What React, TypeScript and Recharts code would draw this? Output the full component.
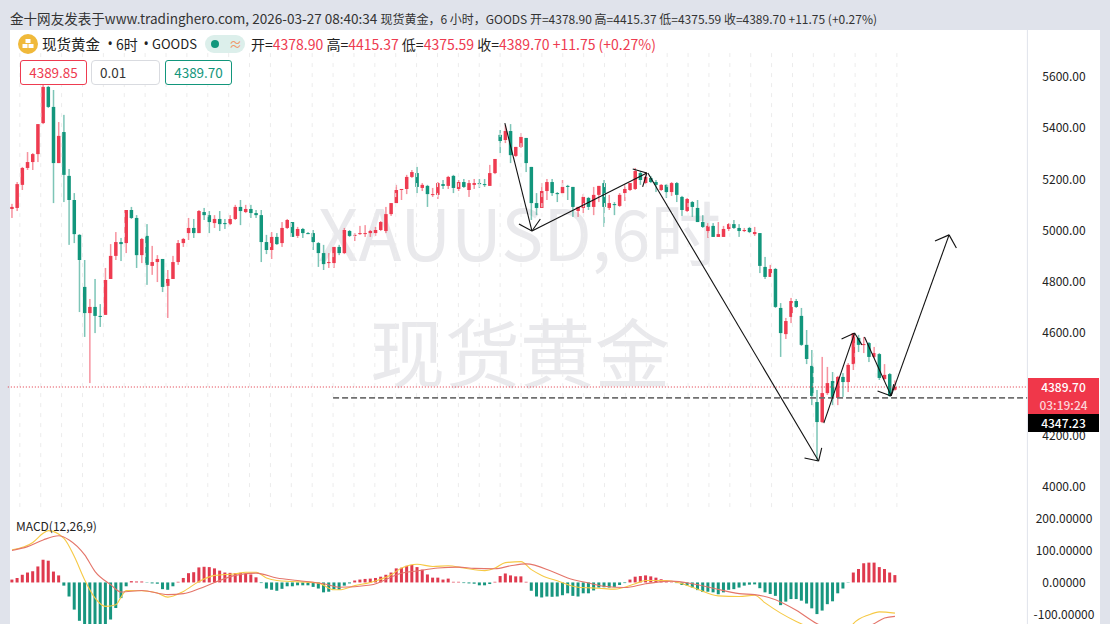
import React from "react";
import { ComposedChart, Bar, Line, Cell, XAxis, YAxis, ReferenceLine } from "recharts";

const FONT = '"Noto Sans CJK SC", "Noto Sans", sans-serif';
const RED = "#ee3b50";
const TEAL = "#12967c";

const opens = [5084,5088,5178,5244,5267,5298,5419,5560,5482,5263,5384,5213,5119,4983,4780,4678,4702,4667,4671,4811,
4901,4955,4951,5080,5049,4904,4979,4862,4877,4889,4784,4811,4877,4951,4990,5010,4990,5072,5060,5029,
5045,5029,5025,5045,5092,5072,5084,5068,5060,4955,4924,4975,4951,5010,5033,4979,5006,4990,4990,4951,
4912,4873,4873,4936,4912,4998,4979,4986,4988,4990,4990,5002,4998,5064,5107,5158,5162,5209,5224,5166,
5174,5139,5139,5181,5174,5213,5162,5189,5158,5178,5185,5181,5174,5224,5373,5353,5388,5291,5326,5361,
5248,5107,5088,5154,5189,5146,5146,5174,5170,5076,5088,5127,5092,5139,5185,5088,5103,5096,5146,5158,
5162,5224,5185,5205,5189,5158,5178,5150,5185,5131,5076,5111,5088,5033,4998,5018,4975,4975,5006,5025,
5010,4998,5010,4986,4990,4858,4819,4850,4698,4596,4663,4725,4667,4554,4472,4331,4253,4366,4413,4347,
4429,4409,4479,4581,4554,4561,4507,4518,4421,4440,4378.9];
const highs = [5104,5189,5248,5306,5302,5415,5568,5564,5548,5423,5451,5240,5146,4986,4885,4733,4811,4713,4854,4947,
4994,4971,5080,5092,5060,4971,5025,4940,4904,4889,4846,4901,4963,4971,5049,5045,5080,5088,5076,5060,
5076,5045,5060,5100,5119,5100,5100,5080,5080,4983,4994,4990,5033,5045,5033,5014,5010,4994,5002,4955,
4944,4912,4936,4944,5010,5002,4990,5018,5021,5002,5014,5037,5092,5107,5178,5162,5217,5236,5248,5185,
5178,5166,5189,5197,5213,5217,5197,5201,5197,5201,5201,5201,5256,5279,5392,5411,5415,5326,5380,5361,
5248,5146,5185,5201,5201,5150,5197,5178,5170,5092,5142,5131,5170,5174,5197,5139,5111,5146,5178,5185,
5244,5232,5228,5213,5197,5181,5181,5189,5189,5135,5127,5115,5119,5060,5029,5029,5033,5018,5029,5041,
5025,5010,5014,5014,4990,4897,4866,4854,4717,4659,4737,4733,4698,4612,4534,4378,4507,4468,4448,4433,
4444,4483,4600,4593,4585,4565,4546,4522,4479,4444,4415.37];
const lows = [5049,5076,5158,5236,5236,5267,5415,5478,5107,5263,5111,4944,4951,4682,4585,4405,4600,4624,4671,4811,
4885,4881,4912,5045,4854,4873,4788,4827,4799,4760,4659,4811,4866,4936,4963,4971,4990,5041,4990,5010,
4998,5006,5021,5041,5021,5068,5049,5049,4877,4908,4889,4944,4936,5006,4975,4971,4971,4986,4924,4858,
4846,4854,4854,4904,4908,4975,4959,4983,4975,4975,4979,4998,4990,5057,5107,5119,5142,5205,5146,5154,
5092,5131,5123,5162,5162,5146,5154,5166,5131,5162,5166,5170,5174,5220,5302,5341,5263,5287,5322,5228,
5041,5060,5088,5119,5135,5111,5142,5119,5053,5053,5068,5080,5060,5111,5014,5080,5060,5092,5115,5154,
5158,5178,5181,5185,5150,5154,5127,5135,5111,5057,5072,5053,5033,5010,4971,4975,4975,4975,4998,5006,
4975,4994,4990,4979,4834,4811,4819,4698,4507,4577,4639,4698,4550,4479,4319,4101,4249,4359,4319,4319,
4351,4370,4456,4526,4522,4487,4503,4417,4417,4351,4375.59];
const closes = [5092,5181,5244,5267,5298,5415,5560,5482,5263,5369,5217,5119,4986,4885,4678,4702,4667,4663,4807,4901,
4955,4947,5080,5049,4904,4967,4866,4877,4889,4780,4811,4877,4951,4967,5010,4990,5076,5060,5033,5045,
5025,5025,5045,5092,5076,5084,5068,5060,4955,4924,4975,4947,5010,5041,4975,5006,4990,4986,4955,4912,
4869,4877,4936,4912,5002,4979,4983,4990,4990,4998,5002,5033,5064,5107,5158,5162,5209,5228,5170,5178,
5142,5142,5185,5174,5209,5166,5189,5170,5185,5185,5181,5178,5224,5279,5349,5388,5294,5326,5365,5263,
5107,5088,5154,5189,5146,5142,5170,5170,5092,5092,5131,5092,5139,5174,5092,5107,5100,5139,5162,5185,
5232,5197,5209,5189,5178,5178,5150,5185,5139,5080,5123,5092,5033,5014,5018,4975,4986,5006,5025,5010,
4998,5002,4994,4994,4862,4819,4850,4702,4600,4647,4725,4702,4554,4499,4355,4253,4366,4405,4351,4429,
4409,4476,4600,4554,4557,4507,4522,4425,4437,4355,4389.7];

const histValues = [9,14,24,31,35,50,71,68,34,22,-10,-44,-85,-120,-135,-135,-135,-135,-135,-116,
-80,-49,-12,4,3,3,-1,-3,-4,-21,-23,-12,2,14,29,32,47,49,48,44,
37,31,30,29,30,27,25,16,-2,-19,-23,-26,-20,-12,-12,-9,-9,-9,-14,-19,
-31,-29,-21,-23,-10,-3,6,9,11,12,14,18,24,31,44,46,52,55,48,40,
25,15,15,9,12,2,2,-2,-3,-4,-9,-9,-5,2,20,28,22,19,19,2,
-26,-44,-47,-44,-45,-44,-40,-34,-42,-44,-34,-34,-25,-16,-15,-16,-14,-8,-2,9,
18,20,22,19,15,10,2,1,-2,-8,-10,-16,-24,-30,-29,-31,-37,-31,-23,-21,
-16,-10,-7,-6,-18,-31,-36,-42,-71,-60,-52,-52,-57,-66,-81,-99,-88,-68,-59,-34,
-19,-1,31,42,60,62,62,48,42,31,23];

const difPoints = [[0,102],[4,125],[6,154],[7,162],[10,138],[12,81],[14,8],[16,-49],[18,-75],[20,-70],[21,-46],[22,-25],[25,-26],[28,-33],[30,-46],[33,-28],[36,3],[39,22],[43,27],[45,32],[47,32],[49,14],[51,6],[54,3],[59,-2],[62,-23],[63,-23],[66,-10],[69,0],[73,24],[75,45],[78,57],[81,50],[84,52],[87,45],[91,37],[93,45],[95,62],[98,65],[100,40],[102,22],[105,5],[109,-15],[113,-18],[116,-21],[120,-4],[122,6],[126,6],[129,-4],[132,-21],[136,-42],[140,-44],[143,-40],[145,-64],[148,-96],[151,-122],[155,-150],[159,-170],[161,-160],[162,-129],[165,-101],[167,-92],[170,-96]];
const deaPoints = [[0,100],[3,112],[6,133],[9,146],[11,133],[14,86],[16,34],[19,-7],[21,-30],[25,-25],[30,-38],[33,-35],[36,-20],[39,0],[43,22],[47,29],[51,14],[55,6],[60,-4],[63,-15],[69,-8],[75,29],[78,36],[82,45],[86,48],[89,44],[93,43],[96,52],[99,58],[104,34],[107,14],[111,-2],[114,-12],[118,-16],[122,-4],[127,4],[131,-4],[135,-18],[140,-35],[143,-38],[147,-54],[151,-87],[155,-129],[159,-155],[163,-150],[166,-129],[168,-111],[170,-106]];

const priceTicks = [4000,4200,4600,4800,5000,5200,5400,5600];
const macdTicks = [-100,0,100,200];
const slotCount = 196;

// drawn lines on the price pane, as [candle index, price] pairs
const arrowSegments = [
  [[94.9,5419],[100.1,4998]],[[97.6,5025],[100.1,4998]],[[101.7,5045],[100.1,4998]],
  [[100.1,4998],[122.1,5224]],[[119.4,5240],[122.1,5224]],[[121.3,5170],[122.1,5224]],
  [[122.3,5224],[155,4101]],[[152.3,4113],[155,4101]],[[155.6,4152],[155,4101]],
  [[156,4249],[161.9,4600]],[[159.4,4577],[161.9,4600]],[[163.3,4554],[161.9,4600]],
  [[163.8,4585],[168.9,4355]],[[166.3,4374],[168.9,4355]],[[169.4,4401],[168.9,4355]],
  [[168.9,4355],[180,4983]],[[177.3,4959],[180,4983]],[[181.4,4932],[180,4983]],
];
const lastPrice = 4389.7;
const markPrice = 4347.23;
const markStartIndex = 62;

const slots = Array.from({ length: slotCount }, (_, i) => i);
const gridSlots = slots.filter((i) => i % 4 === 2 && i <= 170);
const priceRows = slots.map((i) =>
  i < opens.length ? { i, open: opens[i], high: highs[i], low: lows[i], close: closes[i] } : { i }
);
const difMap = new Map(difPoints.map((p) => [p[0], p[1]]));
const deaMap = new Map(deaPoints.map((p) => [p[0], p[1]]));
const macdRows = slots.map((i) => ({ i, hist: histValues[i], dif: difMap.get(i), dea: deaMap.get(i) }));

function Candle(props: any) {
  const { x, y, width, height, payload } = props;
  if (payload.high === undefined || !height) return null;
  const perUnit = height / (payload.high - payload.low);
  const up = payload.close >= payload.open;
  const color = up ? RED : TEAL;
  const top = y + (payload.high - Math.max(payload.open, payload.close)) * perUnit;
  const bodyH = Math.max(Math.abs(payload.close - payload.open) * perUnit, 1);
  const cx = x + width / 2;
  return (
    <g>
      <rect x={cx - 0.75} y={y} width={1.5} height={height} fill={color} fillOpacity={0.55} />
      <rect x={cx - 1.75} y={top} width={3.5} height={bodyH} fill={color} />
    </g>
  );
}

const AxisTick = (decimals: number) => (props: any) => (
  <text x={props.x + 36.6} y={props.y} dy="0.36em" textAnchor="middle" fontSize={12} fontFamily={FONT} fill="#222">
    {props.payload.value.toFixed(decimals)}
  </text>
);

const abs = (left: number, top: number, extra: any = {}): any => ({ position: "absolute", left, top, whiteSpace: "nowrap", ...extra });
const legendText = { fontSize: 14, lineHeight: "18px", color: "#222" };
const bulletText = { fontSize: 14, lineHeight: "18px", color: "#222", fontFamily: '"Noto Sans", sans-serif' };

export default function App() {
  return (
    <div style={{ position: "fixed", left: 0, top: 0, width: 1110, height: 624, background: "#e0e3eb", overflow: "hidden", fontFamily: FONT }}>
      <div style={abs(10, 10, { fontSize: 12, lineHeight: "16px", color: "#333" })}>
        <span style={{ fontSize: 13.55 }}>金十网友发表于www.tradinghero.com, 2026-03-27 08:40:34 </span>现货黄金，6 小时，GOODS 开=4378.90 高=4415.37 低=4375.59 收=4389.70 +11.75 (+0.27%)
      </div>
      <div style={abs(10, 30, { width: 1090, height: 594, background: "#fff" })} />
      <div style={abs(318, 180, { fontSize: 70.5, lineHeight: "100px", color: "#e9e9ec" })}>XAUUSD,6时</div>
      <div style={abs(370, 300, { fontSize: 75, lineHeight: "100px", color: "#e9e9ec" })}>现货黄金</div>

      <div style={abs(0, 30)}>
        <ComposedChart width={1100} height={480} data={priceRows} margin={{ top: 0, right: 0, bottom: 0, left: 9.4 }} barCategoryGap="30%">
          <XAxis dataKey="i" hide />
          <XAxis xAxisId="n" type="number" domain={[-0.5, slotCount - 0.5]} hide />
          <YAxis orientation="right" width={72.6} domain={[3910, 5782]} ticks={priceTicks} interval={0} axisLine={{ stroke: "#e0e3eb" }} tickLine={false} tickSize={0} tickMargin={0} tick={AxisTick(2)} />
          {gridSlots.map((i) => (
            <ReferenceLine key={"g" + i} xAxisId="n" ifOverflow="visible" segment={[{ x: i, y: 5692 }, { x: i, y: 3912 }]} stroke="#ececec" strokeDasharray="4 6" />
          ))}
          <Bar dataKey={(d: any) => (d.high === undefined ? undefined : [d.low, d.high])} shape={<Candle />} isAnimationActive={false} />
          <ReferenceLine xAxisId="n" ifOverflow="visible" segment={[{ x: -0.3, y: lastPrice }, { x: slotCount - 0.5, y: lastPrice }]} stroke="#e0303f" strokeDasharray="1 2" />
          <ReferenceLine xAxisId="n" ifOverflow="visible" segment={[{ x: markStartIndex, y: markPrice }, { x: slotCount - 0.5, y: markPrice }]} stroke="#707070" strokeWidth={1.8} strokeDasharray="6 3" />
          {arrowSegments.map((s, k) => (
            <ReferenceLine key={"a" + k} xAxisId="n" ifOverflow="visible" segment={[{ x: s[0][0], y: s[0][1] }, { x: s[1][0], y: s[1][1] }]} stroke="#111" strokeWidth={1.1} />
          ))}
        </ComposedChart>
      </div>

      <div style={abs(0, 510)}>
        <ComposedChart width={1100} height={114} data={macdRows} margin={{ top: 0, right: 0, bottom: 0, left: 9.4 }}>
          <XAxis dataKey="i" hide />
          <YAxis orientation="right" width={72.6} domain={[-130, 226.6]} allowDataOverflow ticks={macdTicks} interval={0} axisLine={{ stroke: "#e0e3eb" }} tickLine={false} tickSize={0} tickMargin={0} tick={AxisTick(5)} />
          <Bar dataKey="hist" barSize={3} isAnimationActive={false}>
            {macdRows.map((r) => (
              <Cell key={r.i} fill={(r.hist ?? 0) >= 0 ? "#df3a4e" : "#17967f"} />
            ))}
          </Bar>
          <Line dataKey="dif" type="monotone" stroke="#f6c945" strokeWidth={1.1} dot={false} connectNulls isAnimationActive={false} />
          <Line dataKey="dea" type="monotone" stroke="#e4756a" strokeWidth={1.1} dot={false} connectNulls isAnimationActive={false} />
        </ComposedChart>
      </div>
      <div style={abs(16, 518, { fontSize: 12, lineHeight: "16px", color: "#222" })}>MACD(12,26,9)</div>

      <div style={abs(18, 34, { width: 20, height: 20, borderRadius: 10, background: "#f0b93a" })}>
        <svg width="20" height="20">
          <rect x="7.5" y="5" width="5" height="4" fill="#fff" />
          <rect x="4.5" y="10" width="5" height="4" fill="#fff" />
          <rect x="10.5" y="10" width="5" height="4" fill="#fff" />
        </svg>
      </div>
      <div style={abs(42, 35, { ...legendText, fontSize: 14.5 })}>现货黄金</div>
      <div style={abs(107.5, 35, bulletText)}>•</div>
      <div style={abs(116, 35, legendText)}>6时</div>
      <div style={abs(143.5, 35, bulletText)}>•</div>
      <div style={abs(152, 35, { ...legendText, fontSize: 13 })}>GOODS</div>
      <div style={abs(205, 35, { width: 40, height: 18, borderRadius: 9, background: "#dcefeb" })}>
        <div style={abs(6, 5, { width: 8, height: 8, borderRadius: 4, background: TEAL })} />
        <div style={abs(24, 0, { fontSize: 13, lineHeight: "18px", color: "#ef9a6e" })}>≈</div>
      </div>
      <div style={abs(251, 35, legendText)}>
        开=<span style={{ color: RED }}>4378.90</span> 高=<span style={{ color: RED }}>4415.37</span> 低=<span style={{ color: RED }}>4375.59</span> 收=<span style={{ color: RED }}>4389.70 +11.75 (+0.27%)</span>
      </div>
      <div style={abs(20, 60, { width: 65, height: 23, border: "1px solid " + RED, borderRadius: 3, background: "#fff", color: RED, fontSize: 13.5, lineHeight: "23px", textAlign: "center" })}>4389.85</div>
      <div style={abs(91, 60, { width: 67, height: 23, border: "1px solid #d9dbe0", borderRadius: 4, background: "#fff", color: "#333", fontSize: 13.5, lineHeight: "23px", textIndent: 8 })}>0.01</div>
      <div style={abs(165, 60, { width: 65, height: 23, border: "1px solid " + TEAL, borderRadius: 3, background: "#fff", color: TEAL, fontSize: 13.5, lineHeight: "23px", textAlign: "center" })}>4389.70</div>

      <div style={abs(1028, 378, { width: 71, height: 36, background: "#f0374a", textAlign: "center", fontSize: 12, lineHeight: "18px", color: "#fff", fontWeight: 500 })}>
        <div>4389.70</div>
        <div style={{ color: "#fcd3d8" }}>03:19:24</div>
      </div>
      <div style={abs(1028, 414, { width: 71, height: 18, background: "#000", textAlign: "center", fontSize: 12, lineHeight: "18px", color: "#fff", fontWeight: 500 })}>4347.23</div>
    </div>
  );
}
